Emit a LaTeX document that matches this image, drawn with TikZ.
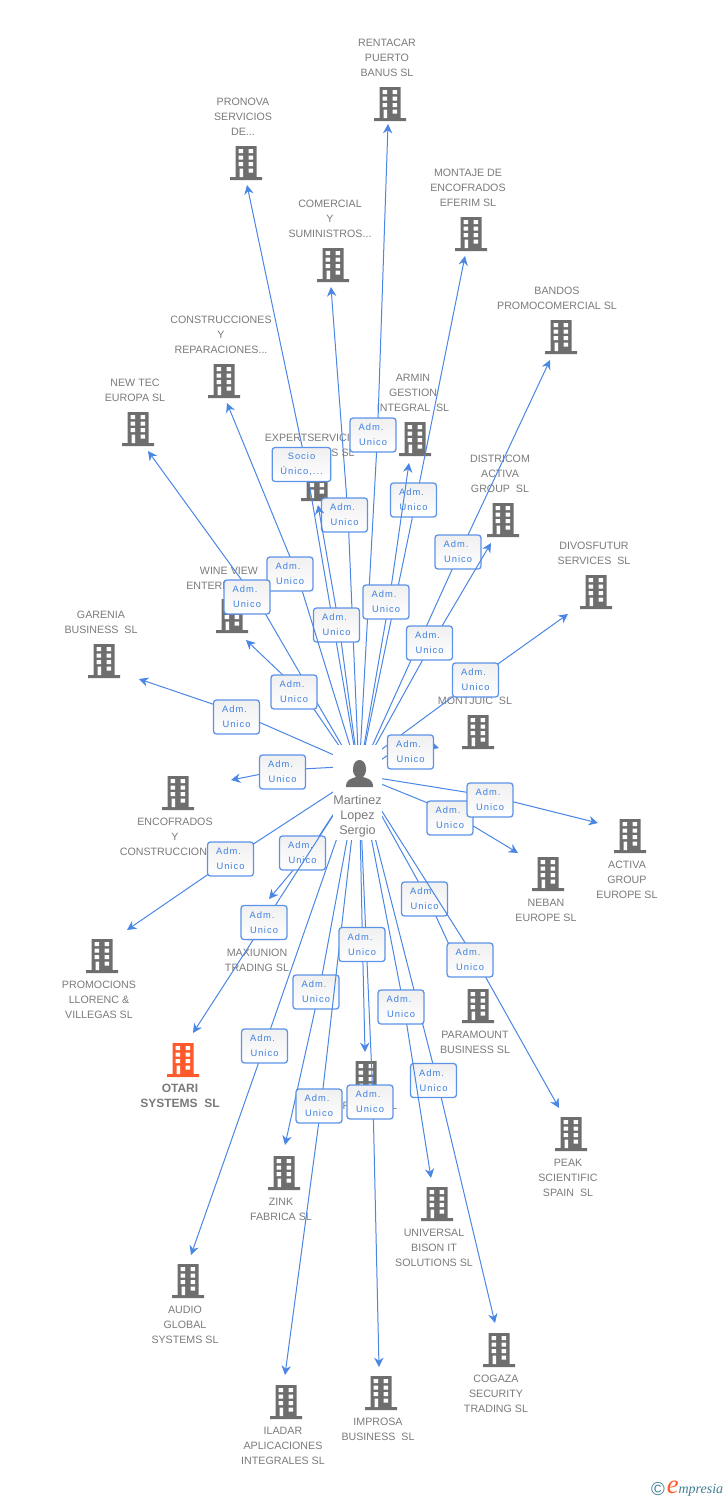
\documentclass[tikz,border=0pt]{standalone}
\usepackage{fontspec}
\setmainfont{Liberation Sans}
\newfontfamily\admfont[LetterSpace=11]{Liberation Sans}
\newfontfamily\logofont{Liberation Serif}
\usetikzlibrary{arrows.meta, positioning}
\definecolor{linkblue}{HTML}{4A86E4}
\definecolor{admblue}{HTML}{3F80E0}
\definecolor{bldgray}{HTML}{6E6E6E}
\definecolor{txtgray}{HTML}{7A7A7A}
\definecolor{otarired}{HTML}{FF5A2B}
\definecolor{logoteal}{HTML}{3F7F93}
\tikzset{
  pics/building/.style = {
    code = {
      \fill[#1] (-10.5,-17) rectangle (10.5,14) (-16,14) rectangle (16,17);
      \fill[white] (-7.5,-14) rectangle (-3,-10) (2.5,-14) rectangle (7,-10)
        (-7.5,-7.5) rectangle (-3,-3.5) (2.5,-7.5) rectangle (7,-3.5)
        (-7.5,-1) rectangle (-3,3) (2.5,-1) rectangle (7,3)
        (-6.5,5.5) rectangle (-3,14) (2.5,5.5) rectangle (7,9.5);
    }
  },
  pics/building/.default = bldgray,
  company/.style = {
    align = center, inner sep = 0pt, text = txtgray,
    font = \fontsize{8}{11.25}\selectfont,
  },
  adm/.style = {
    draw = linkblue!90, line width = 0.95pt, rounded corners = 2.2pt,
    top color = black!6, middle color = white, bottom color = white,
    minimum width = 34.5pt, minimum height = 25.5pt, inner sep = 0pt,
    align = center, text = admblue, font = \fontsize{7}{11.25}\admfont,
  },
  Arrow1/.style = {
    draw = linkblue, line width = 0.75pt,
    -{Stealth[length = 7pt, width = 7pt]},
  },
}

\begin{document}
\begin{tikzpicture}[x=0.75pt, y=-0.75pt]
  \useasboundingbox (0,0) rectangle (728,1500);
  \coordinate (hub) at (359,775);
  \coordinate (hubhigh) at (359,766);

  % companies
  \foreach \nm/\ix/\iy/\lx/\ly/\txt in {
    rentacar/390/104/387/58/{RENTACAR\\PUERTO\\BANUS SL},
    pronova/246/163/243/117/{PRONOVA\\SERVICIOS\\DE...},
    comercial/333/265/330/219/{COMERCIAL\\Y\\SUMINISTROS...},
    montaje/471/234/468/188/{MONTAJE DE\\ENCOFRADOS\\EFERIM SL},
    bandos/561/337/557/298.5/{BANDOS\\PROMOCOMERCIAL SL},
    armin/415/439/413/393/{ARMIN\\GESTION\\INTEGRAL\ \ SL},
    districom/503/520/500/474/{DISTRICOM\\ACTIVA\\GROUP\ \ SL},
    divosfutur/596/592/594/553.5/{DIVOSFUTUR\\SERVICES\ \ SL},
    newtec/138/429/135/390.5/{NEW TEC\\EUROPA SL},
    construcciones/224/381/221/335/{CONSTRUCCIONES\\Y\\REPARACIONES...},
    garenia/104/661/101/622.5/{GARENIA\\BUSINESS\ \ SL},
    montjuic/478/732/475/701/{MONTJUIC\ \ SL},
    encofrados/178/793/175/837/{ENCOFRADOS\\Y\\CONSTRUCCIONES...},
    promocions/102/956/99/1000/{PROMOCIONS\\LLORENC \&\\VILLEGAS SL},
    maxiunion/263/923/257/960.5/{MAXIUNION\\TRADING SL},
    audio/188/1281/185/1325/{AUDIO\\GLOBAL\\SYSTEMS SL},
    zink/284/1173/281/1209.5/{ZINK\\FABRICA SL},
    iladar/286/1402/283/1446/{ILADAR\\APLICACIONES\\INTEGRALES SL},
    improsa/381/1393/378/1429.5/{IMPROSA\\BUSINESS\ \ SL},
    universal/437/1204/434/1248/{UNIVERSAL\\BISON IT\\SOLUTIONS SL},
    cogaza/499/1350/496/1394/{COGAZA\\SECURITY\\TRADING SL},
    paramount/478/1006/475/1042.5/{PARAMOUNT\\BUSINESS SL},
    peak/571/1134/568/1178/{PEAK\\SCIENTIFIC\\SPAIN\ \ SL},
    neban/548/874/546/910.5/{NEBAN\\EUROPE SL},
    activa/630/836/627/880/{ACTIVA\\GROUP\\EUROPE SL}%
  }{
    \pic (\nm) at (\ix,\iy) {building};
    \node[company] (\nm label) at (\lx,\ly) {\txt};
  }
  \pic (expert) at (317,484) {building};
  \node[company] (expert label) at (315,438) {EXPERTSERVICIOS};
  \node[company] (expert label2) at (343,453) {S SL};
  \pic (wine) at (232,616) {building};
  \node[company] (wine label) at (229,571) {WINE VIEW};
  \node[company, anchor=west] (wine label2) at (186,586) {ENTERP};
  \pic (fcomp) at (366,1078) {building};
  \node[company] (fcomp label) at (370,1106) {\makebox[41pt]{F\hfill SL}};
  \pic (otari) at (183,1060) {building=otarired};
  \node[company, font=\fontsize{9}{11.25}\selectfont\bfseries] (otari label) at (180,1095.5) {OTARI\\SYSTEMS\ \ SL};

  % links, in painting order
  \coordinate (pronova tip) at (247,185);
  \coordinate (pronova bend) at (306,465);
  \draw[Arrow1] (hub) -- (pronova bend) -- (pronova tip);
  \node[adm, minimum width=44pt] (pronova adm) at (301.5,464.5) {Socio\\Único,...};
  \foreach \nm/\start/\tx/\ty/\bx/\by/\lx/\ly in {
    rentacar/hub/388/124/377.5/435/373/435,
    comercial/hub/331/287/348/515/344.5/515,
    montaje/hub/465/256/416/500/413.5/500,
    armin/hub/409/463/389/602/386/602,
    bandos/hub/550/360/460/552/458/552,
    districom/hub/491/543/432/643/429.5/643,
    divosfutur/hubhigh/568/614/475.5/680/475.5/680,
    montjuic/hub/439/748/410/740/410.5/752,
    expert/hub/318/505/339/625/336.5/625,
    construcciones/hub/227/403/297/574/290/574,
    newtec/hub/148/451/262/608/247/597,
    wine/hub/246/640/305/696/294/692,
    garenia/hubhigh/139/679/236/712/236.5/717,
    encofrados/hubhigh/231/780/282/770/282.5/772,
    promocions/hub/127/930/230.5/859/230.5/859,
    maxiunion/hub/269/899/310/850/302.5/853,
    otari/hub/193/1033/264/923/264/922.5,
    audio/hub/191/1255/264.5/1046/264.5/1046,
    zink/hub/285/1145/319/992/316/992,
    iladar/hub/285/1375/321/1106/319/1106,
    improsa/hub/379/1367/373/1100/370/1102,
    fcomp/hub/365/1052/362.5/944/362/944.5,
    cogaza/hub/495/1323/437/1080/433.5/1080.5,
    universal/hub/431/1178/404/1007/401/1007,
    paramount/hub/464/977/428/899/424.5/899,
    peak/hub/559/1108/476/960/470/960,
    neban/hub/518/853/450/812/450/818,
    activa/hub/598/823/490/796/490/800%
  }{
    \coordinate (\nm tip) at (\tx,\ty);
    \coordinate (\nm bend) at (\bx,\by);
    \draw[Arrow1] (\start) -- (\nm bend) -- (\nm tip);
    \node[adm] (\nm adm) at (\lx,\ly) {Adm.\kern3pt\\Unico};
  }

  % the person, white ground over the ends of the links
  \node[fill=white, minimum width=36.75pt, minimum height=71.25pt, inner sep=0pt] (person) at (357.5,792.5) {};
  \fill[bldgray] (353,769) .. controls (353,757) and (366,757) .. (366,769) .. controls (366,774) and (364,776) .. (363,777)
    .. controls (368,779) and (373,779) .. (373,787) -- (346,787) .. controls (346,779) and (351,779) .. (356,777)
    .. controls (354,775) and (353,773) .. cycle;
  \node[company, font=\fontsize{9.4}{11.25}\selectfont] (person label) at (357.5,816) {Martinez\\Lopez\\Sergio};

  % logo
  \node[inner sep=0pt, text=logoteal, font=\fontsize{14}{14}\selectfont] (copy) at (658,1489) {©};
  \node[inner sep=0pt, right=1pt of copy, text=logoteal, font=\fontsize{10.5}{12}\logofont\itshape] (logo) {{\color{otarired}\fontsize{20}{12}\selectfont e}mpresia};
\end{tikzpicture}
\end{document}
